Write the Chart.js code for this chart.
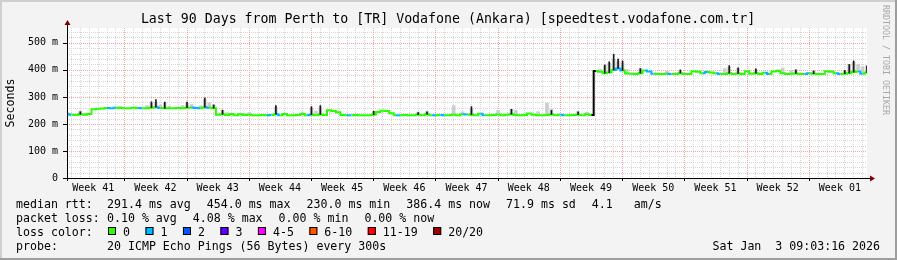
<!DOCTYPE html>
<html><head><meta charset="utf-8">
<script src="https://cdn.jsdelivr.net/npm/chart.js@4"></script>
<style>html,body{margin:0;padding:0;background:#f3f3f3}canvas{display:block}</style>
</head><body>
<canvas id="c" width="897" height="260"></canvas>
<script>
const titleText = 'Last 90 Days from Perth to [TR] Vodafone (Ankara) [speedtest.vodafone.com.tr]';
const weekLabels = ['Week 41','Week 42','Week 43','Week 44','Week 45','Week 46','Week 47','Week 48','Week 49','Week 50','Week 51','Week 52','Week 01'];
const yTickValues = [0,100,200,300,400,500];
const totalDays = 90;
const stepDays = 0.5;           // one median sample every 12 hours
const firstWeekStart = 6.45;    // days after graph start where the first full week begins
const firstDayLine = 0.45;

// median RTT (ms), one value per 12 h
const median = [
237,234,233,236,234,237,254,256,257,259,
258,260,259,258,258,260,259,258,258,260,
262,259,258,258,258,259,258,260,261,259,
258,262,260,258,234,236,233,237,232,236,
233,234,232,232,233,232,233,236,232,237,
232,232,233,237,232,234,232,235,233,251,
248,243,233,232,232,233,232,232,232,234,
244,249,248,240,232,232,233,232,232,234,
232,236,232,232,233,232,232,234,232,236,
235,234,232,238,232,232,233,235,232,234,
236,233,232,233,239,234,232,232,233,235,
232,234,232,232,233,234,232,236,233,396,
393,388,390,400,405,398,387,386,385,388,
398,394,386,385,385,386,385,385,388,385,
385,395,393,388,392,390,388,385,385,388,
385,387,385,395,386,388,385,389,385,394,
396,388,385,386,387,385,385,388,386,385,
385,395,393,388,385,386,388,392,394,386,
390];
// samples with 1 lost ping
const lossOneIdx = [0,9,10,16,20,28,29,31,45,47,54,63,74,82,84,89,93,111,123,124,130,131,135,143,146,157,166,173,178];
// dark spikes
const spikeIdx = [3,19,20,22,27,31,33,35,47,55,57,69,79,81,91,100,109,115,121,122,123,124,125,129,138,149,151,155,164,168,175,176,177,180];
const spikeTop = [245,282,290,281,281,296,270,251,268,264,268,247,242,245,264,254,250,245,418,430,458,440,433,405,400,416,408,404,400,396,398,420,433,415];
// grey smoke
const smokeIdx = [0,3,4,12,18,19,20,21,22,23,26,27,28,30,31,32,33,35,36,40,41,47,49,53,55,56,57,69,79,81,87,89,91,97,100,101,106,108,109,115,117,120,121,122,123,124,125,126,129,135,138,144,148,149,151,155,160,161,163,164,168,172,175,176,177,178,179,180];
const smokeTop = [242,248,240,265,268,276,280,270,278,266,268,276,272,268,290,278,272,250,242,240,242,262,240,244,258,248,262,245,244,246,268,245,255,250,254,250,245,277,255,245,243,402,415,425,440,430,425,401,405,395,398,398,405,410,405,400,401,407,398,400,396,398,398,420,428,420,412,415];

const lossLabels = ['0','1','2','3','4-5','6-10','11-19','20/20'];
const lossColors = ['#26ff00','#00b8ff','#0059ff','#5e00ff','#ff00ff','#ff5500','#ff0000','#a10000'];
const rttStats = ['291.4 ms avg','454.0 ms max','230.0 ms min','386.4 ms now','71.9 ms sd','4.1   am/s'];
const lossStats = ['0.10 % avg','4.08 % max','0.00 % min','0.00 % now'];
const probeText = '20 ICMP Echo Pings (56 Bytes) every 300s';
const dateText = 'Sat Jan  3 09:03:16 2026';

const MONO = '"DejaVu Sans Mono", monospace';
const lossOneSet = new Set(lossOneIdx);

const medianData = median.map((v, i) => ({x: i * stepDays, y: v}));
const spikeData = spikeIdx.map((i, k) => ({x: i * stepDays, y: [median[i], spikeTop[k]]}));
const smokeData = smokeIdx.map((i, k) => ({x: i * stepDays, y: [median[i], smokeTop[k]]}));

const deco = {
  id: 'deco',
  beforeDraw(chart) {
    const ctx = chart.ctx, W = chart.width, H = chart.height, a = chart.chartArea;
    ctx.save();
    ctx.fillStyle = '#f3f3f3'; ctx.fillRect(0, 0, W, H);
    ctx.fillStyle = '#cfcfcf'; ctx.fillRect(0, 0, W, 2); ctx.fillRect(0, 0, 2, H);
    ctx.fillStyle = '#9e9e9e'; ctx.fillRect(0, H - 2, W, 2); ctx.fillRect(W - 2, 0, 2, H);
    ctx.fillStyle = '#ffffff'; ctx.fillRect(a.left, a.top, a.right - a.left, a.bottom - a.top);
    ctx.restore();
  },
  beforeDatasetsDraw(chart) {
    const ctx = chart.ctx, a = chart.chartArea, xs = chart.scales.x, ys = chart.scales.y;
    ctx.save();
    ctx.lineWidth = 1; ctx.setLineDash([1, 1]);
    const vline = (px) => { ctx.beginPath(); ctx.moveTo(px, a.top); ctx.lineTo(px, a.bottom); ctx.stroke(); };
    const hline = (py) => { ctx.beginPath(); ctx.moveTo(a.left, py); ctx.lineTo(a.right, py); ctx.stroke(); };
    ctx.strokeStyle = '#d6d6d6';
    for (let d = firstDayLine; d < totalDays; d += 1) vline(Math.round(xs.getPixelForValue(d)) + 0.5);
    for (let v = 20; v < ys.max; v += 20) if (v % 100) hline(Math.round(ys.getPixelForValue(v)) + 0.5);
    ctx.strokeStyle = '#f4a3a3';
    for (let d = firstWeekStart; d < totalDays; d += 7) vline(Math.round(xs.getPixelForValue(d)) + 0.5);
    for (let v = 100; v < ys.max; v += 100) hline(Math.round(ys.getPixelForValue(v)) + 0.5);
    ctx.restore();
  },
  afterDatasetsDraw(chart) {
    const ctx = chart.ctx, a = chart.chartArea, xs = chart.scales.x, ys = chart.scales.y;
    ctx.save();
    ctx.strokeStyle = '#000'; ctx.lineWidth = 1;
    const y0 = Math.round(a.bottom) + 0.5, x0 = Math.round(a.left) + 0.5;
    ctx.beginPath(); ctx.moveTo(a.left - 3, y0); ctx.lineTo(a.right + 3, y0); ctx.stroke();
    ctx.beginPath(); ctx.moveTo(x0, a.bottom + 3); ctx.lineTo(x0, a.top - 3); ctx.stroke();
    for (let v = 0; v < ys.max; v += 100) { const py = Math.round(ys.getPixelForValue(v)) + 0.5; ctx.beginPath(); ctx.moveTo(a.left - 4, py); ctx.lineTo(a.left + 1, py); ctx.stroke(); }
    for (let d = firstWeekStart - 7; d < totalDays; d += 7) { if (d < 0) continue; const px = Math.round(xs.getPixelForValue(d)) + 0.5; ctx.beginPath(); ctx.moveTo(px, a.bottom); ctx.lineTo(px, a.bottom + 3); ctx.stroke(); }
    ctx.fillStyle = '#7f0000';
    ctx.beginPath(); ctx.moveTo(x0 - 3, a.top - 3); ctx.lineTo(x0 + 3, a.top - 3); ctx.lineTo(x0, a.top - 8); ctx.closePath(); ctx.fill();
    ctx.beginPath(); ctx.moveTo(a.right + 3, y0 - 3); ctx.lineTo(a.right + 3, y0 + 3); ctx.lineTo(a.right + 8, y0); ctx.closePath(); ctx.fill();
    ctx.restore();
  },
  afterDraw(chart) {
    const ctx = chart.ctx;
    ctx.save();
    ctx.fillStyle = '#000';
    ctx.textBaseline = 'alphabetic';
    ctx.font = '13.25px ' + MONO;
    ctx.textAlign = 'center';
    ctx.fillText(titleText, 448, 23);
    ctx.textAlign = 'left';
    ctx.font = '11.6px ' + MONO;
    const col = 107, gap = 16;
    const row = (label, y, segs) => {
      ctx.fillText(label, 16, y);
      let x = col;
      segs.forEach(s => { ctx.fillText(s, x, y); x += ctx.measureText(s).width + gap; });
    };
    row('median rtt:', 208, rttStats);
    row('packet loss:', 222, lossStats);
    ctx.fillText('loss color:', 16, 236);
    let x = 108;
    lossLabels.forEach((lab, k) => {
      ctx.fillStyle = lossColors[k]; ctx.fillRect(x, 227, 8, 8);
      ctx.strokeStyle = '#000'; ctx.lineWidth = 1; ctx.strokeRect(x + 0.5, 227.5, 7, 7);
      ctx.fillStyle = '#000';
      ctx.fillText(lab, x + 15, 236);
      x += 15 + ctx.measureText(lab).width + 15.5;
    });
    ctx.fillText('probe:', 16, 250);
    ctx.fillText(probeText, col, 250);
    ctx.textAlign = 'right';
    ctx.fillText(dateText, 880, 250);
    ctx.save();
    ctx.translate(11, 103); ctx.rotate(-Math.PI / 2);
    ctx.textAlign = 'center'; ctx.textBaseline = 'middle';
    ctx.font = '11.6px ' + MONO;
    ctx.fillText('Seconds', 0, 0);
    ctx.restore();
    ctx.save();
    ctx.translate(885, 5); ctx.rotate(Math.PI / 2);
    ctx.textAlign = 'left'; ctx.textBaseline = 'middle';
    ctx.font = '8.3px ' + MONO; ctx.fillStyle = '#a8a8a8';
    ctx.fillText('RRDTOOL / TOBI OETIKER', 0, 0);
    ctx.restore();
    ctx.restore();
  }
};

new Chart(document.getElementById('c'), {
  type: 'line',
  data: {
    datasets: [
      { type: 'bar', data: smokeData, backgroundColor: '#cdcdcd', barThickness: 3, grouped: false, order: 3 },
      { type: 'line', data: medianData, borderWidth: 2, pointRadius: 0, stepped: 'middle', borderColor: lossColors[0],
        segment: { borderColor: c => Math.abs(c.p1.parsed.y - c.p0.parsed.y) > 100 ? '#000000' : (lossOneSet.has(c.p0DataIndex) ? lossColors[1] : lossColors[0]) },
        order: 2 },
      { type: 'bar', data: spikeData, backgroundColor: '#1a1a1a', barThickness: 1, grouped: false, order: 1 }
    ]
  },
  options: {
    responsive: false, animation: false, devicePixelRatio: 1,
    layout: { padding: { left: 0, top: 28, right: 30, bottom: 0 } },
    plugins: { legend: { display: false }, tooltip: { enabled: false }, title: { display: false } },
    scales: {
      x: {
        type: 'linear', min: 0, max: totalDays, offset: false,
        grid: { display: false, drawTicks: false }, border: { display: false },
        afterFit: s => { s.height = 82; },
        afterBuildTicks: s => { s.ticks = weekLabels.map((_, k) => ({ value: firstWeekStart - 3.5 + 7 * k })); },
        ticks: { autoSkip: false, maxRotation: 0, padding: 4, color: '#000', font: { family: MONO, size: 10 },
          callback: (v, i) => weekLabels[i] }
      },
      y: {
        min: 0, max: 555,
        grid: { display: false, drawTicks: false }, border: { display: false },
        afterFit: s => { s.width = 67; },
        afterBuildTicks: s => { s.ticks = yTickValues.map(v => ({ value: v })); },
        ticks: { padding: 9, color: '#000', font: { family: MONO, size: 10 },
          callback: v => v === 0 ? '0' : v + ' m' }
      }
    }
  },
  plugins: [deco]
});
</script>
</body></html>
